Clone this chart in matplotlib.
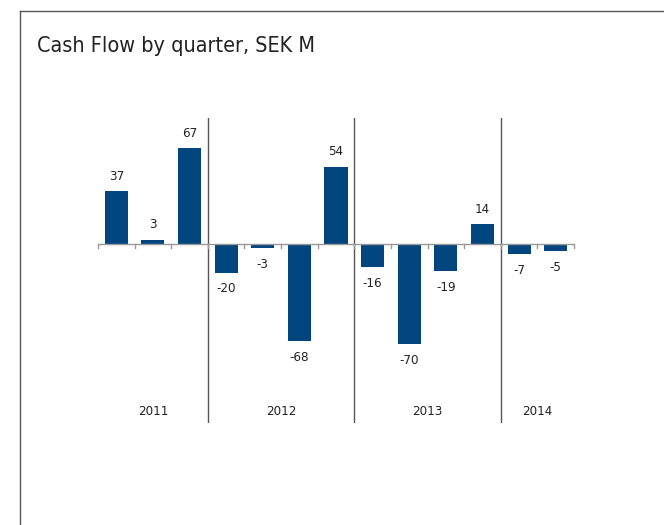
import matplotlib.pyplot as plt
from matplotlib.lines import Line2D

# Quarterly cash flow, SEK M (2011 Q2 .. 2014 Q2)
values = [37, 3, 67, -20, -3, -68, 54, -16, -70, -19, 14, -7, -5]
years = ['2011', '2012', '2013', '2014']
quarters_per_year = [3, 4, 4, 2]

plt.rcParams['font.family'] = ['DejaVu Sans']
plt.rcParams['font.stretch'] = 'condensed'

fig = plt.figure(figsize=(6.64, 5.25), dpi=100)

# outer frame (top and left edges visible)
fig.add_artist(Line2D([20 / 664, 1], [1 - 11 / 525, 1 - 11 / 525], transform=fig.transFigure, color='#555555', lw=1))
fig.add_artist(Line2D([20 / 664, 20 / 664], [0, 1 - 11 / 525], transform=fig.transFigure, color='#555555', lw=1))

fig.text(37 / 664, 1 - 46 / 525, 'Cash Flow by quarter, SEK M', fontsize=15.5, color='#222222', va='center', ha='left')

ax = fig.add_axes([98 / 664, 102 / 525, 476 / 664, 305 / 525])
x = list(range(len(values)))
ax.bar(x, values, width=0.63, color='#01457F', zorder=2)
ax.set_xlim(-0.5, len(values) - 0.5)
ax.set_ylim(-125, 88)
ax.axis('off')

# zero line with ticks between categories
ax.axhline(0, color='#999999', lw=1, zorder=3)
for i in range(len(values) + 1):
    ax.plot([i - 0.5, i - 0.5], [0, -3], color='#999999', lw=1, clip_on=False, zorder=3)

# value labels
for xi, v in zip(x, values):
    if v >= 0:
        ax.annotate(str(v), (xi, v), xytext=(0, 6), textcoords='offset points',
                    ha='center', va='bottom', fontsize=9.5, color='#222222')
    else:
        ax.annotate(str(v), (xi, v), xytext=(0, -7), textcoords='offset points',
                    ha='center', va='top', fontsize=9.5, color='#222222')

# year separators and labels
start = 0
for k, (yr, n) in enumerate(zip(years, quarters_per_year)):
    ax.text(start + (n - 1) / 2, -117, yr, ha='center', va='center', fontsize=9.5, color='#222222')
    start += n
    if k < len(years) - 1:
        ax.axvline(start - 0.5, color='#555555', lw=1, zorder=1)

fig.savefig('out.png', dpi=100)
